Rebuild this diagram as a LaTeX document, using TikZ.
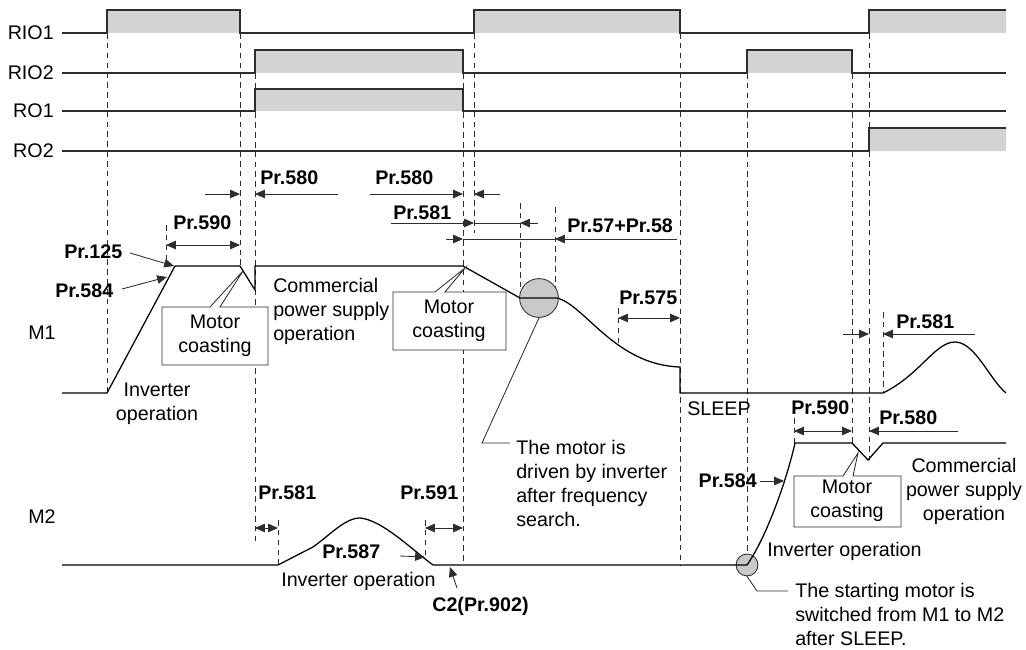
\documentclass[tikz,border=0pt]{standalone}
\usepackage{fontspec}
\setmainfont{Liberation Sans}
\usetikzlibrary{arrows.meta}
\definecolor{pulsegray}{RGB}{209,211,212}
\definecolor{markgray}{RGB}{200,201,203}
\definecolor{darkline}{RGB}{45,45,45}
\newcommand\diafont{\fontsize{14}{17}\selectfont}

\tikzset{
  sigline/.style={line width=1.1pt, draw=darkline},
  wave/.style={line width=0.9pt, draw=black},
  guide/.style={line width=0.6pt, draw=darkline, dash pattern=on 4pt off 3pt},
  dimline/.style={line width=0.6pt, draw=darkline},
  prlabel/.style={font=\diafont\bfseries, inner sep=0pt},
  txt/.style={inner sep=0pt},
  coastbox/.style={draw=darkline, fill=white, line width=0.6pt},
  searchdot/.style={circle, draw=darkline, fill=markgray, line width=0.6pt, inner sep=0pt},
}

\begin{document}
\begin{tikzpicture}[x=0.025cm, y=-0.025cm, font=\diafont,
  >={Triangle[length=7pt,width=6pt]}]
\useasboundingbox (0,0) rectangle (1026,650);

% row names
\foreach \n/\y in {RIO1/33, RIO2/73, RO1/111, RO2/151}
  \node[txt, anchor=east] (lab\n) at (54,\y) {\n};
\node[txt, anchor=west] (labM1) at (28,333) {M1};
\node[txt, anchor=west] (labM2) at (28,517) {M2};

% dashed timing guides
\foreach \x/\ya/\yb in {107/33/393, 166/225/266, 240/33/266, 255/73/542, 278/520/565,
    425/520/557, 463/73/565, 474/33/233, 520/203/298, 555/207/298, 618/308/343,
    680/33/565, 747/73/565, 794/418/443, 852/73/443, 869/33/460, 883/312/393}
  \draw[guide] (\x,\ya) -- (\x,\yb);

% output signals
\fill[pulsegray] (107,10) rectangle (240,33) (474,10) rectangle (680,33)
  (869,10) rectangle (1006,33) (255,50) rectangle (463,73) (747,50) rectangle (852,73)
  (255,89) rectangle (463,111) (869,128) rectangle (1006,151);
\draw[sigline] (62,33) -| (107,10) -| (240,33) -| (474,10) -| (680,33) -| (869,10) -- (1006,10);
\draw[sigline] (62,73) -| (255,50) -| (463,73) -| (747,50) -| (852,73) -- (1006,73);
\draw[sigline] (62,111) -| (255,89) -| (463,111) -- (1006,111);
\draw[sigline] (62,151) -| (869,128) -- (1006,128);

% motor speeds
\node[searchdot, minimum size=27.6pt] (search) at (539,298) {};
\node[searchdot, minimum size=15.6pt] (swap) at (747,565) {};
\draw[wave] (62,393) -- (107,393) -- (175,266) -- (240,266) -- (255,290) -- (255,266)
  -- (463,266) -- (520,298) -- (557,298) .. controls (585,305) and (615,365) .. (680,367)
  -- (680,393) -- (883,393) .. controls (920,375) and (935,342) .. (955,342)
  .. controls (975,342) and (990,380) .. (1006,393);
\draw[wave] (62,565) -- (278,565) -- (313,547) .. controls (330,535) and (345,518) .. (360,518)
  .. controls (382,520) and (410,548) .. (433,565) -- (747,565)
  .. controls (768,535) and (788,475) .. (795,443) -- (852,443) -- (868,460) -- (883,443)
  -- (1006,443);

% coasting callouts
\draw[coastbox] (162,307) -- (210,307) -- (243,271) -- (220,307) -- (268,307) |- (162,365) -- cycle;
\node[txt, align=center] (coastA) at (215,336) {Motor\\coasting};
\draw[coastbox] (393,292) -- (435,292) -- (465,268) -- (445,292) -- (506,292) |- (393,350) -- cycle;
\node[txt, align=center] (coastB) at (449,321) {Motor\\coasting};
\draw[coastbox] (794,476) -- (843,476) -- (858,453) -- (853,476) -- (901,476) |- (794,527) -- cycle;
\node[txt, align=center] (coastC) at (847,501) {Motor\\coasting};

% parameter times
\node[prlabel, anchor=west] (p580a) at (260,178) {Pr.580};
\draw[dimline, ->] (205,194) -- (240,194);
\draw[dimline, ->] (338,194) -- (255,194);
\node[prlabel, anchor=west] (p590a) at (173,223) {Pr.590};
\draw[dimline, <->] (166,245) -- (240,245);
\node[prlabel, anchor=west] (p580b) at (375,178) {Pr.580};
\draw[dimline, ->] (370,194) -- (463,194);
\draw[dimline, ->] (500,194) -- (474,194);
\node[prlabel, anchor=west] (p581a) at (393,213) {Pr.581};
\draw[dimline, ->] (391,223) -- (474,223);
\draw[dimline] (474,223) -- (520,223);
\draw[dimline, ->] (538,223) -- (520,223);
\node[prlabel, anchor=west] (p5758) at (567,226) {Pr.57+Pr.58};
\draw[dimline, ->] (446,239) -- (463,239);
\draw[dimline] (463,239) -- (555,239);
\draw[dimline, ->] (677,239) -- (555,239);
\node[prlabel, anchor=west] (p575) at (619,298) {Pr.575};
\draw[dimline, <->] (618,318) -- (680,318);
\node[prlabel, anchor=west] (p581b) at (896,322) {Pr.581};
\draw[dimline, ->] (843,334) -- (869,334);
\draw[dimline, ->] (975,334) -- (883,334);
\node[prlabel, anchor=west] (p590b) at (791,408) {Pr.590};
\draw[dimline, <->] (794,431) -- (852,431);
\node[prlabel, anchor=west] (p580c) at (879,418) {Pr.580};
\draw[dimline, ->] (958,431) -- (869,431);
\node[prlabel, anchor=west] (p581c) at (258,493) {Pr.581};
\draw[dimline, <->] (255,528) -- (278,528);
\node[prlabel, anchor=west] (p591) at (400,493) {Pr.591};
\draw[dimline, <->] (425,528) -- (463,528);
\node[prlabel, anchor=west] (p587) at (322,552) {Pr.587};
\draw[dimline, ->] (400,556) -- (425,557);
\node[prlabel, anchor=base west] (c2) at (432,611) {C2(Pr.902)};
\draw[dimline, ->] (457,588) -- (450,567);
\node[prlabel, anchor=west] (p125) at (64,252) {Pr.125};
\draw[dimline, ->] (130,253) -- (174,266);
\node[prlabel, anchor=west] (p584a) at (55,291) {Pr.584};
\draw[dimline, ->] (122,289) -- (167,277);
\node[prlabel, anchor=east] (p584b) at (757,481) {Pr.584};
\draw[dimline, ->] (760,481) -- (784,481);

% notes
\node[txt, anchor=north, align=center] (invA) at (157,383) {Inverter\\operation};
\node[txt, anchor=north west, align=left] (cpsA) at (273,278) {Commercial\\power supply\\operation};
\node[txt, anchor=west] (sleep) at (687,409) {SLEEP};
\node[txt, anchor=base west] (invB) at (281,586) {Inverter operation};
\node[txt, anchor=base west] (invC) at (767,556) {Inverter operation};
\node[txt, anchor=north, align=center] (cpsB) at (964,458) {Commercial\\power supply\\operation};
\node[txt, anchor=north west, align=left] (searchnote) at (516,440)
  {The motor is\\driven by inverter\\after frequency\\search.};
\draw[dimline] (search.south) -- (482,443) -- (510,443);
\node[txt, anchor=north west, align=left] (swapnote) at (795,583)
  {The starting motor is\\switched from M1 to M2\\after SLEEP.};
\draw[dimline] (swap.south) -- (757,591) -- (788,591);
\end{tikzpicture}
\end{document}
